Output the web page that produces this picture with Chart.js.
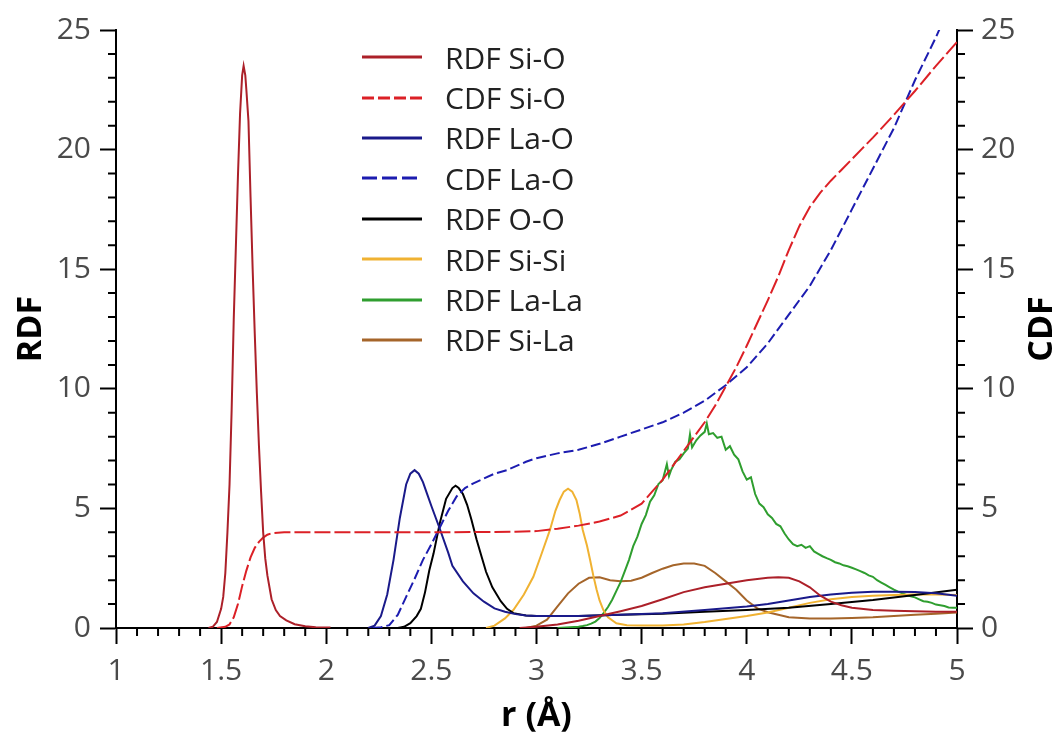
<!DOCTYPE html>
<html>
<head>
<meta charset="utf-8">
<script src="https://cdn.jsdelivr.net/npm/chart.js@4.4.1/dist/chart.umd.min.js"></script>
<style>
body{margin:0;background:#fff;}
#wrap{position:relative;width:1056px;height:737px;}
#legend{position:absolute;left:362px;top:37px;font-family:'Open Sans',sans-serif;font-size:30px;color:#222;}
.row{display:flex;align-items:center;height:40.4px;white-space:nowrap;}
.row svg{margin-right:23px;}
</style>
</head>
<body>
<div id="wrap">
<canvas id="myChart" width="1056" height="737"></canvas>
<div id="legend"></div>
</div>
<script>
// r (Å) values and curves
const rSiO = [1.44,1.46,1.48,1.50,1.51,1.52,1.53,1.54,1.55,1.56,1.57,1.58,1.59,1.60,1.607,1.615,1.62,1.63,1.64,1.65,1.66,1.67,1.68,1.69,1.70,1.71,1.72,1.74,1.76,1.78,1.81,1.85,1.90,1.95,2.02,2.5,2.92,3.0,3.1,3.2,3.3,3.4,3.5,3.6,3.7,3.8,3.9,4.0,4.1,4.15,4.2,4.25,4.3,4.35,4.4,4.45,4.5,4.6,4.7,4.8,4.9,5.0];
const rdfSiO = [0,0.05,0.25,0.8,1.3,2.3,4.0,6.0,9.1,12.9,15.9,18.9,21.5,23.1,23.5,23.1,22.5,21.2,18.0,15.0,12.3,9.8,7.6,5.7,4.0,2.9,2.2,1.2,0.75,0.5,0.32,0.16,0.07,0.03,0.02,null,0,0.05,0.15,0.3,0.5,0.7,0.92,1.2,1.5,1.7,1.85,2.0,2.1,2.12,2.1,1.95,1.7,1.35,1.1,0.95,0.85,0.75,0.72,0.7,0.68,0.68];

const rCdfSiO = [1.48,1.52,1.54,1.56,1.58,1.60,1.62,1.64,1.66,1.68,1.70,1.72,1.74,1.80,2.0,2.5,2.9,3.0,3.1,3.2,3.3,3.4,3.5,3.55,3.6,3.65,3.7,3.75,3.8,3.85,3.9,3.95,4.0,4.05,4.1,4.15,4.2,4.25,4.3,4.35,4.4,4.45,4.5,4.55,4.6,4.7,4.8,4.9,5.0];
const cdfSiO = [0,0.05,0.15,0.45,1.0,1.75,2.4,2.95,3.35,3.6,3.78,3.9,3.96,4.0,4.0,4.0,4.02,4.05,4.15,4.28,4.45,4.7,5.2,5.7,6.2,6.8,7.4,8.0,8.6,9.3,10.1,10.9,11.8,12.75,13.7,14.7,15.8,16.8,17.6,18.2,18.7,19.15,19.6,20.05,20.5,21.45,22.45,23.5,24.5];

const rLaO = [2.20,2.23,2.26,2.29,2.32,2.35,2.38,2.40,2.42,2.44,2.46,2.48,2.50,2.54,2.58,2.60,2.65,2.70,2.75,2.80,2.85,2.90,2.95,3.0,3.2,3.4,3.6,3.8,4.0,4.1,4.2,4.3,4.4,4.5,4.6,4.7,4.8,4.9,5.0];
const rdfLaO = [0,0.1,0.5,1.4,2.85,4.6,6.0,6.45,6.6,6.45,6.1,5.6,5.1,4.15,3.15,2.6,1.95,1.45,1.1,0.82,0.68,0.58,0.52,0.5,0.5,0.55,0.62,0.75,0.9,1.0,1.15,1.3,1.4,1.47,1.52,1.52,1.5,1.45,1.35];

const rCdfLaO = [2.22,2.26,2.30,2.34,2.38,2.42,2.46,2.50,2.54,2.58,2.62,2.66,2.70,2.75,2.80,2.86,2.95,3.0,3.1,3.2,3.3,3.4,3.5,3.6,3.7,3.8,3.9,4.0,4.1,4.2,4.3,4.4,4.5,4.6,4.7,4.8,4.9,4.95,5.0];
const cdfLaO = [0,0.03,0.12,0.55,1.3,2.05,2.85,3.5,4.2,4.9,5.5,5.85,6.05,6.25,6.45,6.6,6.95,7.1,7.3,7.45,7.7,8.0,8.3,8.6,9.0,9.5,10.15,10.9,11.9,13.1,14.3,15.8,17.5,19.2,20.9,22.9,24.7,25.7,26.8];

const rOO = [2.34,2.37,2.40,2.43,2.45,2.47,2.49,2.51,2.54,2.57,2.60,2.615,2.63,2.65,2.67,2.69,2.715,2.74,2.76,2.79,2.83,2.86,2.89,2.95,3.0,3.2,3.4,3.6,3.8,4.0,4.2,4.4,4.6,4.8,5.0];
const rdfOO = [0,0.05,0.2,0.5,0.8,1.5,2.4,3.1,4.38,5.4,5.85,5.95,5.85,5.6,5.15,4.55,3.7,2.95,2.35,1.7,1.12,0.8,0.62,0.52,0.5,0.5,0.55,0.6,0.68,0.75,0.85,1.0,1.17,1.38,1.6];

const rSiSi = [2.76,2.80,2.85,2.89,2.94,2.985,3.02,3.064,3.09,3.11,3.13,3.15,3.17,3.19,3.205,3.22,3.24,3.255,3.27,3.286,3.30,3.318,3.34,3.38,3.43,3.5,3.6,3.7,3.8,3.9,4.0,4.1,4.2,4.3,4.4,4.5,4.6,4.7,4.8,4.9,5.0];
const rdfSiSi = [0,0.1,0.4,0.75,1.4,2.14,3.0,4.1,4.9,5.35,5.7,5.82,5.7,5.35,4.8,4.1,3.45,2.84,2.2,1.6,1.15,0.75,0.45,0.2,0.12,0.1,0.1,0.15,0.25,0.38,0.5,0.65,0.85,1.05,1.2,1.3,1.35,1.38,1.4,1.4,1.38];

const rLaLa = [3.10,3.12,3.14,3.16,3.18,3.20,3.22,3.24,3.26,3.28,3.30,3.32,3.34,3.36,3.38,3.40,3.42,3.44,3.46,3.48,3.50,3.52,3.54,3.56,3.58,3.60,3.62,3.63,3.64,3.66,3.68,3.70,3.72,3.73,3.74,3.76,3.78,3.80,3.81,3.82,3.84,3.86,3.88,3.90,3.92,3.94,3.96,3.98,4.00,4.02,4.04,4.06,4.08,4.10,4.12,4.14,4.16,4.18,4.20,4.22,4.24,4.26,4.28,4.30,4.32,4.34,4.36,4.38,4.40,4.42,4.44,4.46,4.48,4.50,4.52,4.54,4.56,4.58,4.60,4.62,4.64,4.66,4.68,4.70,4.72,4.74,4.76,4.78,4.80,4.82,4.84,4.86,4.88,4.90,4.92,4.94,4.96,4.98,5.00];
const rdfLaLa = [0,0.01,0.02,0.03,0.04,0.05,0.08,0.12,0.18,0.27,0.42,0.63,0.88,1.18,1.55,1.92,2.38,2.85,3.42,3.82,4.35,4.72,5.28,5.55,6.02,6.18,6.85,6.35,6.6,6.95,7.05,7.3,7.5,8.1,7.55,7.85,8.05,8.2,8.55,8.1,8.15,7.95,8.0,7.45,7.6,7.25,7.05,6.55,6.2,6.3,5.6,5.2,5.05,4.75,4.6,4.35,4.25,3.95,3.7,3.5,3.42,3.48,3.35,3.42,3.2,3.1,3.0,2.92,2.85,2.75,2.7,2.62,2.58,2.52,2.45,2.38,2.3,2.2,2.14,2.0,1.9,1.8,1.7,1.6,1.52,1.45,1.38,1.33,1.28,1.2,1.12,1.1,1.05,0.98,0.95,0.92,0.86,0.85,0.85];

const rSiLa = [2.95,3.0,3.05,3.10,3.15,3.20,3.25,3.30,3.35,3.40,3.45,3.50,3.55,3.60,3.65,3.70,3.75,3.80,3.85,3.90,3.95,4.00,4.05,4.10,4.15,4.20,4.3,4.4,4.5,4.6,4.7,4.8,4.9,5.0];
const rdfSiLa = [0,0.1,0.35,0.9,1.45,1.85,2.1,2.12,2.0,1.95,1.98,2.1,2.3,2.48,2.62,2.7,2.7,2.6,2.3,1.95,1.6,1.15,0.82,0.66,0.55,0.45,0.4,0.4,0.42,0.45,0.5,0.55,0.6,0.65];

const xTicks = [1,1.5,2,2.5,3,3.5,4,4.5,5];
const yTicks = [0,5,10,15,20,25];

function pts(rs, vs){
  return rs.map((r,i)=>({x:r, y:vs[i]}));
}

const series = [
  {label:"RDF Si-O", r:rSiO, v:rdfSiO, color:"#ac2029", dash:[], axis:"y"},
  {label:"CDF Si-O", r:rCdfSiO, v:cdfSiO, color:"#dc2026", dash:[16,4], axis:"y2"},
  {label:"RDF La-O", r:rLaO, v:rdfLaO, color:"#1a1a8a", dash:[], axis:"y"},
  {label:"CDF La-O", r:rCdfLaO, v:cdfLaO, color:"#1c1cb0", dash:[10,4], axis:"y2"},
  {label:"RDF O-O", r:rOO, v:rdfOO, color:"#000000", dash:[], axis:"y"},
  {label:"RDF Si-Si", r:rSiSi, v:rdfSiSi, color:"#f0b232", dash:[], axis:"y"},
  {label:"RDF La-La", r:rLaLa, v:rdfLaLa, color:"#2f9e2f", dash:[], axis:"y"},
  {label:"RDF Si-La", r:rSiLa, v:rdfSiLa, color:"#a5652a", dash:[], axis:"y"}
];

const datasets = series.map(s=>({
  label:s.label,
  data:pts(s.r, s.v),
  borderColor:s.color,
  borderWidth:2,
  borderDash:s.dash,
  yAxisID:s.axis,
  pointRadius:0,
  tension:0,
  spanGaps:false
}));

// html legend
const legend = document.getElementById("legend");
series.forEach(s=>{
  const row = document.createElement("div");
  row.className = "row";
  row.innerHTML = '<svg width="60" height="6"><line x1="0" y1="3" x2="60" y2="3" stroke="'+s.color+'" stroke-width="3"'+
    (s.dash.length ? ' stroke-dasharray="'+(s.label=="CDF Si-O"?"12,4":"15,5")+'"' : '')+'/></svg><span>'+s.label+'</span>';
  legend.appendChild(row);
});

const fam = "'Open Sans', sans-serif";

const minorTicks = {
  id:"minorTicks",
  afterDraw(chart){
    const {ctx, chartArea:a, scales:{x, y}} = chart;
    ctx.save();
    ctx.strokeStyle = "#000";
    ctx.lineWidth = 2;
    ctx.beginPath();
    for (let i=10;i<=50;i++){
      if (i%5===0) continue;
      const px = x.getPixelForValue(i/10);
      ctx.moveTo(px, a.bottom); ctx.lineTo(px, a.bottom+8);
    }
    for (let v=0; v<=25; v++){
      if (v%5===0) continue;
      const py = y.getPixelForValue(v);
      ctx.moveTo(a.left-8, py); ctx.lineTo(a.left, py);
      ctx.moveTo(a.right, py); ctx.lineTo(a.right+8, py);
    }
    ctx.stroke();
    // right axis title, same direction as the left one
    ctx.translate(1042, (a.top+a.bottom)/2);
    ctx.rotate(-Math.PI/2);
    ctx.fillStyle = "#000";
    ctx.font = "bold 34px " + fam;
    ctx.textAlign = "center";
    ctx.textBaseline = "middle";
    ctx.fillText("CDF", 0, 0);
    ctx.restore();
  }
};

function tickOpts(extra){
  return Object.assign({
    color:"#4a4a4a",
    font:{family:fam, size:30},
    autoSkip:false,
    maxRotation:0,
    callback:(v)=>String(+Number(v).toFixed(2))
  }, extra);
}
const gridOpts = {drawOnChartArea:false, drawTicks:true, tickLength:16, tickWidth:2, tickColor:"#000"};
const borderOpts = {display:true, color:"#000", width:2};

new Chart(document.getElementById("myChart"), {
  type:"line",
  data:{datasets},
  options:{
    responsive:false,
    animation:false,
    layout:{padding:{top:30, left:0, right:0, bottom:0}},
    plugins:{legend:{display:false}, tooltip:{enabled:false}},
    scales:{
      x:{
        type:"linear", min:1, max:5, position:"bottom",
        afterBuildTicks:(s)=>{ s.ticks = xTicks.map(v=>({value:v})); },
        ticks:tickOpts({padding:9}),
        grid:gridOpts, border:borderOpts,
        title:{display:true, text:"r (Å)", color:"#000", font:{family:fam, size:34, weight:"bold", lineHeight:1}, padding:{top:0, bottom:4}},
        afterFit:(s)=>{ s.height = 109; }
      },
      y:{
        type:"linear", min:0, max:25, position:"left",
        afterBuildTicks:(s)=>{ s.ticks = yTicks.map(v=>({value:v})); },
        ticks:tickOpts({padding:9}),
        grid:gridOpts, border:borderOpts,
        title:{display:true, text:"RDF", color:"#000", font:{family:fam, size:34, weight:"bold", lineHeight:1}, padding:{top:14, bottom:0}},
        afterFit:(s)=>{ s.width = 116; }
      },
      y2:{
        type:"linear", min:0, max:25, position:"right",
        afterBuildTicks:(s)=>{ s.ticks = yTicks.map(v=>({value:v})); },
        ticks:tickOpts({padding:8}),
        grid:gridOpts, border:borderOpts,
        afterFit:(s)=>{ s.width = 99; }
      }
    }
  },
  plugins:[minorTicks]
});
</script>
</body>
</html>
